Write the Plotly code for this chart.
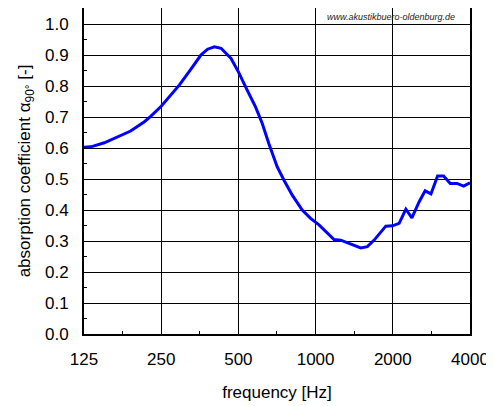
import plotly.graph_objects as go

freq = [125, 133, 150, 169, 190, 215, 228, 250, 273, 294, 326, 357, 379, 403, 428, 468,
        500, 520, 541, 583, 619, 657, 708, 752, 811, 887, 956, 1031, 1128, 1180, 1253,
        1371, 1500, 1592, 1692, 1878, 1995, 2117, 2249, 2374, 2535, 2674, 2817, 2990,
        3156, 3350, 3558, 3778, 4000]
alpha = [0.603, 0.604, 0.617, 0.635, 0.655, 0.685, 0.703, 0.735, 0.771, 0.803, 0.854,
         0.900, 0.919, 0.927, 0.922, 0.889, 0.846, 0.819, 0.787, 0.733, 0.680, 0.615,
         0.540, 0.497, 0.448, 0.400, 0.373, 0.352, 0.319, 0.305, 0.303, 0.290, 0.278,
         0.282, 0.303, 0.348, 0.349, 0.357, 0.403, 0.375, 0.427, 0.462, 0.452, 0.510,
         0.510, 0.486, 0.486, 0.477, 0.488]

x_ticks = [125, 250, 500, 1000, 2000, 4000]
x_minor = [177, 354, 707, 1414, 2828]
y_ticks = [0.0, 0.1, 0.2, 0.3, 0.4, 0.5, 0.6, 0.7, 0.8, 0.9, 1.0]
y_labels = ["0.0", "0.1", "0.2", "0.3", "0.4", "0.5", "0.6", "0.7", "0.8", "0.9", "1.0"]

fig = go.Figure()
fig.add_trace(go.Scatter(x=freq, y=alpha, mode="lines",
                         line=dict(color="#0000FF", width=3),
                         hoverinfo="skip", showlegend=False))

font = "Liberation Sans, Arial, sans-serif"
fig.update_layout(
    width=494, height=406,
    margin=dict(l=76, r=32, t=0, b=80),
    paper_bgcolor="white", plot_bgcolor="white",
    font=dict(family=font, color="black", size=17),
    xaxis=dict(
        type="log", range=[2.09691, 3.60206], automargin=False,
        tickmode="array", tickvals=x_ticks, ticktext=[str(v) for v in x_ticks],
        showgrid=True, gridcolor="#000000", gridwidth=1,
        showline=True, linecolor="black", linewidth=2, mirror=True,
        ticks="inside", ticklen=3, tickcolor="black",
        minor=dict(tickmode="array", tickvals=x_minor, ticks="inside", ticklen=3,
                   tickcolor="black", showgrid=False),
        ticklabelstandoff=9,
        tickfont=dict(size=17),
        title=dict(text="frequency [Hz]", font=dict(size=17), standoff=18),
        zeroline=False,
    ),
    yaxis=dict(
        range=[0, 1.052], automargin=False,
        tickmode="array", tickvals=y_ticks, ticktext=y_labels,
        showgrid=True, gridcolor="#000000", gridwidth=1,
        showline=True, linecolor="black", linewidth=2, mirror=True,
        ticks="inside", ticklen=3, tickcolor="black",
        minor=dict(tickmode="array", tickvals=[v + 0.05 for v in y_ticks[:-1]], ticks="inside",
                   ticklen=3, tickcolor="black", showgrid=False),
        ticklabelstandoff=10,
        tickfont=dict(size=17),
        title=dict(text="absorption coefficient α<sub>90°</sub> [-]", font=dict(size=17), standoff=10),
        zeroline=False,
    ),
)

fig.add_annotation(text="<i>www.akustikbuero-oldenburg.de</i>", xref="paper", yref="paper",
                   x=0.795, y=0.972, xanchor="center", yanchor="middle", showarrow=False,
                   font=dict(size=9, color="#222222", family=font))

fig.write_html("out.html")
